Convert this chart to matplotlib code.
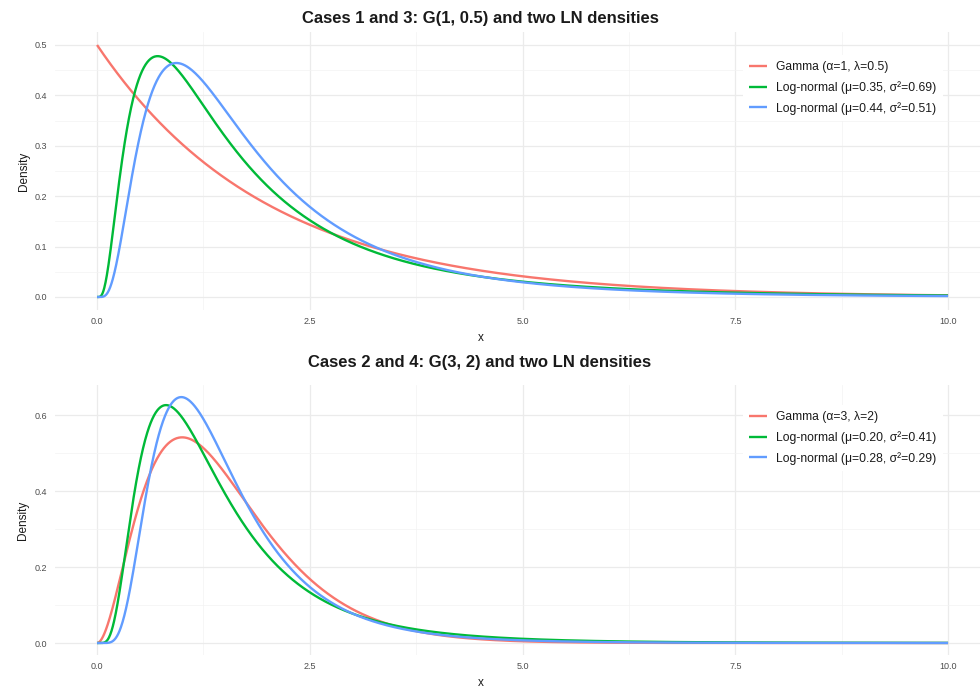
import math
import numpy as np
import matplotlib
matplotlib.use("Agg")
import matplotlib.pyplot as plt
from matplotlib.ticker import MultipleLocator

plt.rcParams['font.family'] = ['Liberation Sans', 'DejaVu Sans']

# ---- data (parameters read from the legends) ----
titles = ["Cases 1 and 3: G(1, 0.5) and two LN densities",
          "Cases 2 and 4: G(3, 2) and two LN densities"]
gamma_alpha = [1, 3]
gamma_lambda = [0.5, 2]
ln1_mu = [0.35, 0.20]
ln1_sigma2 = [0.69, 0.41]
ln2_mu = [0.44, 0.28]
ln2_sigma2 = [0.51, 0.29]
gamma_labels = ["Gamma (\u03b1=1, \u03bb=0.5)", "Gamma (\u03b1=3, \u03bb=2)"]
ln1_labels = ["Log-normal (\u03bc=0.35, \u03c3\u00b2=0.69)", "Log-normal (\u03bc=0.20, \u03c3\u00b2=0.41)"]
ln2_labels = ["Log-normal (\u03bc=0.44, \u03c3\u00b2=0.51)", "Log-normal (\u03bc=0.28, \u03c3\u00b2=0.29)"]
y_major = [0.1, 0.2]
x_ticks = [0.0, 2.5, 5.0, 7.5, 10.0]
x_max = 10.0

colors = ["#F8766D", "#00BA38", "#619CFF"]


def gamma_pdf(x, a, lam):
    return lam ** a * x ** (a - 1) * np.exp(-lam * x) / math.gamma(a)


def lnorm_pdf(x, mu, s2):
    out = np.zeros_like(x)
    pos = x > 0
    xp = x[pos]
    out[pos] = np.exp(-(np.log(xp) - mu) ** 2 / (2 * s2)) / (xp * np.sqrt(2 * np.pi * s2))
    return out


W, H = 980, 690
fig = plt.figure(figsize=(W / 100, H / 100), dpi=100)

# axes positions in pixels: (left, top, right, bottom)
boxes = [(54.5, 32.4, 990.6, 309.6), (54.5, 384.8, 990.6, 655.3)]
title_y = [19, 363]
xlabel_y = [338, 683]
leg_top = [49, 399]

x = np.linspace(0, x_max, 2001)

for i in range(2):
    l, t, r, b = boxes[i]
    ax = fig.add_axes([l / W, 1 - b / H, (r - l) / W, (b - t) / H])
    ys = [gamma_pdf(x, gamma_alpha[i], gamma_lambda[i]),
          lnorm_pdf(x, ln1_mu[i], ln1_sigma2[i]),
          lnorm_pdf(x, ln2_mu[i], ln2_sigma2[i])]
    labels = [gamma_labels[i], ln1_labels[i], ln2_labels[i]]
    for yv, c, lab in zip(ys, colors, labels):
        ax.plot(x, yv, color=c, lw=1.7, label=lab, solid_capstyle='butt')
    ymax = max(float(np.max(v)) for v in ys)
    ax.set_xlim(-0.05 * x_max, 1.05 * x_max)
    ax.set_ylim(-0.05 * ymax, 1.05 * ymax)
    ax.set_xticks(x_ticks)
    ax.set_xticklabels([f"{v:.1f}" for v in x_ticks])
    ax.xaxis.set_minor_locator(MultipleLocator(1.25))
    ax.yaxis.set_major_locator(MultipleLocator(y_major[i]))
    ax.yaxis.set_minor_locator(MultipleLocator(y_major[i] / 2))
    ax.yaxis.set_major_formatter(matplotlib.ticker.FormatStrFormatter('%.1f'))
    ax.grid(True, which='major', color='#EBEBEB', lw=0.9)
    ax.grid(True, which='minor', color='#F3F3F3', lw=0.5)
    ax.set_axisbelow(True)
    for s in ax.spines.values():
        s.set_visible(False)
    ax.tick_params(which='both', length=0, labelsize=6.5, labelcolor='#4D4D4D', pad=5)
    ax.set_ylabel("Density", fontsize=8.5, color='#1A1A1A', labelpad=4)
    ax.set_xlabel("")
    fig.text(481 / W, 1 - xlabel_y[i] / H, "x", ha='center', va='center', fontsize=8.5, color='#1A1A1A')
    fig.text(480 / W, 1 - title_y[i] / H, titles[i], ha='center', va='center',
             fontsize=12, fontweight='bold', color='#1A1A1A')
    leg = ax.legend(loc='upper left', bbox_to_anchor=(737 / W, 1 - leg_top[i] / H),
                    bbox_transform=fig.transFigure, fontsize=8.7, frameon=True,
                    facecolor='white', edgecolor='none', framealpha=1, fancybox=False,
                    handlelength=1.5, handletextpad=0.75, labelspacing=0.66, borderpad=0.5)
    for line in leg.get_lines():
        line.set_linewidth(1.7)
    for txt in leg.get_texts():
        txt.set_color('#1A1A1A')

fig.savefig("out.png", dpi=100, facecolor='white')
